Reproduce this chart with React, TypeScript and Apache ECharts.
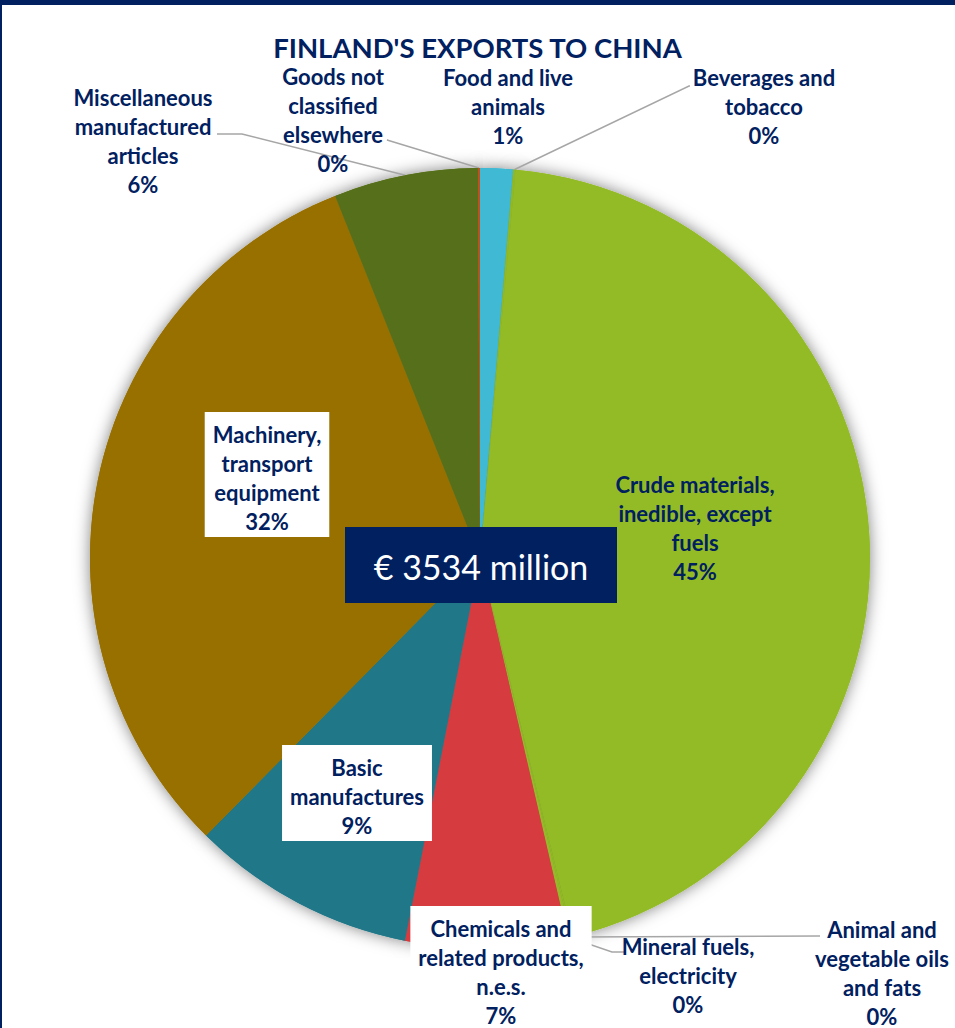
import React, { useEffect, useRef } from "react";
import * as echarts from "echarts";

const chartTitle = "FINLAND'S EXPORTS TO CHINA";

const categories = [
  "Food and live animals",
  "Beverages and tobacco",
  "Crude materials, inedible, except fuels",
  "Animal and vegetable oils and fats",
  "Mineral fuels, electricity",
  "Chemicals and related products, n.e.s.",
  "Basic manufactures",
  "Machinery, transport equipment",
  "Miscellaneous manufactured articles",
  "Goods not classified elsewhere",
];

const labelTexts = [
  "Food and live\nanimals",
  "Beverages and\ntobacco",
  "Crude materials,\ninedible, except\nfuels",
  "Animal and\nvegetable oils\nand fats",
  "Mineral fuels,\nelectricity",
  "Chemicals and\nrelated products,\nn.e.s.",
  "Basic\nmanufactures",
  "Machinery,\ntransport\nequipment",
  "Miscellaneous\nmanufactured\narticles",
  "Goods not\nclassified\nelsewhere",
];

// EUR million
const exportValues = [48, 4, 1580, 2, 5, 237, 329, 1115, 211, 3];

const sliceColors = [
  "#40B9D4",
  "#8FB828",
  "#93BB26",
  "#93BB26",
  "#95B929",
  "#D63B40",
  "#207788",
  "#977000",
  "#566F1B",
  "#C0501E",
];

// label layout: [centerX, topY]
const labelAnchors = [
  [508, 63],
  [764, 63],
  [695, 470],
  [882, 915],
  [688, 932],
  [501, 906],
  [357, 745],
  [267, 412],
  [143, 83],
  [333, 62],
];
const labelBoxed = [false, false, false, false, false, true, true, true, false, false];
const leaderTail: (number[][] | null)[] = [
  null,
  [[689, 86], [690, 86]],
  null,
  [[819, 936], [820, 936]],
  [[612, 952], [625, 952]],
  null,
  null,
  null,
  [[242, 134], [217, 134]],
  [[387, 140], [388, 140]],
];

const NAVY = "#002060";
const FONT = "Lato, 'Open Sans', sans-serif";

export default function App() {
  const ref = useRef<HTMLDivElement>(null);

  useEffect(() => {
    if (!ref.current) return;
    const chart = echarts.init(ref.current, undefined, { renderer: "svg" });
    const total = exportValues.reduce((a, b) => a + b, 0);
    const center = [480, 558];
    const radius = 390;

    const mainData = categories.map((name, i) => ({
      name,
      value: exportValues[i],
      itemStyle: { color: sliceColors[i] },
      label: labelBoxed[i]
        ? { backgroundColor: "#ffffff", padding: [8, 8, 1, 8] }
        : { backgroundColor: "transparent", padding: 0 },
      labelLine: { show: leaderTail[i] !== null },
    }));

    chart.setOption({
      animation: false,
      backgroundColor: "#ffffff",
      title: {
        text: chartTitle,
        left: "center",
        top: 28,
        textStyle: { fontFamily: FONT, fontWeight: "bold", fontSize: 27.5, color: NAVY },
      },
      graphic: [
        { type: "rect", left: 0, top: 0, shape: { width: 955, height: 5 }, style: { fill: NAVY }, z: 100 },
        { type: "rect", left: 0, top: 0, shape: { width: 2, height: 1028 }, style: { fill: NAVY }, z: 100 },
        {
          type: "rect",
          x: 345,
          y: 527,
          shape: { width: 272, height: 76 },
          style: { fill: NAVY },
          z: 100,
        },
        {
          type: "text",
          x: 481,
          y: 566,
          style: {
            text: `€ ${total} million`,
            fill: "#ffffff",
            fontFamily: FONT,
            fontSize: 34,
            align: "center",
            verticalAlign: "middle",
          },
          z: 101,
        },
      ],
      series: [
        {
          type: "pie",
          silent: true,
          center,
          radius,
          startAngle: 90,
          label: { show: false },
          labelLine: { show: false },
          itemStyle: { shadowBlur: 16, shadowColor: "rgba(0,0,0,0.5)", borderWidth: 0 },
          data: exportValues.map((v, i) => ({ name: categories[i], value: v, itemStyle: { color: sliceColors[i] } })),
          z: 1,
        },
        {
          type: "pie",
          silent: true,
          center,
          radius,
          startAngle: 90,
          percentPrecision: 0,
          avoidLabelOverlap: false,
          itemStyle: { borderWidth: 0 },
          label: {
            show: true,
            position: "outside",
            formatter: (p: any) => `${labelTexts[p.dataIndex]}\n${p.percent}%`,
            fontFamily: FONT,
            fontWeight: "bold",
            fontSize: 22,
            lineHeight: 29,
            color: NAVY,
            align: "center",
          },
          labelLine: { show: true, lineStyle: { color: "#A6A6A6", width: 1.5 } },
          labelLayout: (params: any) => {
            if (params.seriesIndex !== 1) return {};
            const i = params.dataIndex;
            const a = labelAnchors[i];
            const out: any = { x: a[0], y: a[1], align: "center", verticalAlign: "top" };
            const tail = leaderTail[i];
            if (tail) {
              let start = params.labelLinePoints && params.labelLinePoints[0];
              if (!start) start = [center[0], center[1] - radius];
              out.labelLinePoints = [start, tail[0], tail[1]];
            }
            return out;
          },
          data: mainData,
          z: 2,
        },
      ],
    });
    return () => chart.dispose();
  }, []);

  return (
    <div
      ref={ref}
      style={{ position: "absolute", left: 0, top: 0, width: 955, height: 1028, background: "#fff" }}
    />
  );
}
